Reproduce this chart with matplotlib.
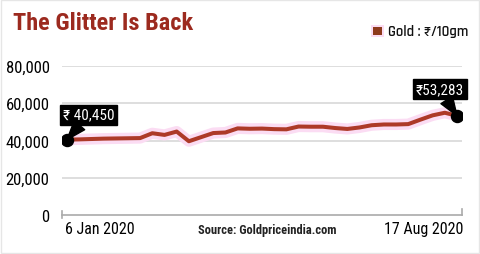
import matplotlib
matplotlib.use("Agg")
import matplotlib.pyplot as plt
import pandas as pd

# weekly gold price, Rs per 10 gm
dates = pd.date_range("2020-01-06", "2020-08-17", freq="7D")
prices = [40450, 40600, 40800, 41000, 41100, 41200, 41300, 43900, 43000, 44800,
          39600, 41800, 44000, 44300, 46500, 46300, 46400, 46100, 46000, 47500,
          47400, 47400, 46700, 46200, 47000, 48200, 48600, 48600, 48800, 51200,
          53500, 54900, 53283]
y_ticks = [0, 20000, 40000, 60000, 80000]
first_label = "6 Jan 2020"
last_label = "17 Aug 2020"

FONT = ["Roboto Condensed", "DejaVu Sans"]
plt.rcParams["font.family"] = FONT

fig = plt.figure(figsize=(4.8, 2.55), dpi=100)
fig.patch.set_facecolor("white")
ax = fig.add_axes([62/480, 39/255, 400/480, 149/255])

step = (dates[1] - dates[0]) * (5/12.19)
ax.set_xlim(dates[0] - step, dates[-1] + step)
ax.set_ylim(0, 80000)

for v in y_ticks[1:]:
    ax.axhline(v, color="#d8d8d8", lw=1.2, zorder=1)

ax.plot(dates, prices, color="#fbdcf3", lw=8, solid_capstyle="round", zorder=2)
ax.plot(dates, prices, color="#ad3a28", lw=2.9, solid_joinstyle="round", zorder=3)
ax.scatter([dates[0], dates[-1]], [prices[0], prices[-1]], s=75, color="black", zorder=5)

for s in ["top", "right", "left"]:
    ax.spines[s].set_visible(False)
ax.spines["bottom"].set_color("#aaaaaa")
ax.spines["bottom"].set_linewidth(1.2)
ax.set_xticks([])
ax.set_yticks(y_ticks)
ax.set_yticklabels(["{:,}".format(v) for v in y_ticks])
ax.tick_params(axis="y", length=0, pad=9, labelsize=12)
ax.axvline(ax.get_xlim()[0], ymin=-0.02, ymax=0.025, color="#aaaaaa", lw=1.2, clip_on=False)
ax.axvline(ax.get_xlim()[1], ymin=0, ymax=0.04, color="#aaaaaa", lw=1.2, clip_on=False)

# callouts
box = dict(boxstyle="square,pad=0.2", fc="black", ec="black")
arrow = dict(arrowstyle="wedge,tail_width=0.9", fc="black", ec="black", shrinkA=0, shrinkB=0)
ax.annotate("\u20b9 40,450", xy=(dates[0], prices[0]), xytext=(-3, 18), textcoords="offset points",
            fontsize=11, color="white", ha="left", va="center", bbox=box, arrowprops=arrow, zorder=6)
ax.annotate("\u20b953,283", xy=(dates[-1], prices[-1]), xytext=(5, 19), textcoords="offset points",
            fontsize=11, color="white", ha="right", va="center", bbox=box, arrowprops=arrow, zorder=6)

# bottom labels
fig.text(65/480, 1 - 230/255, first_label, fontsize=11.5, ha="left", va="center")
fig.text(463/480, 1 - 230/255, last_label, fontsize=11.5, ha="right", va="center")
fig.text(267/480, 1 - 231/255, "Source: Goldpriceindia.com", fontsize=9, ha="center",
         va="center", fontweight="bold", color="#222222")

# title and legend
fig.text(13/480, 1 - 24/255, "The Glitter Is Back", fontsize=17.5, fontweight="bold",
         color="#9c2a1f", ha="left", va="center")
fig.patches.append(plt.Rectangle((371/480, 1 - 38/255), 13/480, 12/255, transform=fig.transFigure,
                                 fc="#fbdcf3", ec="none"))
fig.patches.append(plt.Rectangle((373/480, 1 - 36/255), 9/480, 8/255, transform=fig.transFigure,
                                 fc="#8e3a1c", ec="none"))
fig.text(388/480, 1 - 32/255, "Gold : \u20b9/10gm", fontsize=10.5, ha="left", va="center",
         color="#111111", family=["Rajdhani", "Roboto Condensed", "DejaVu Sans"], fontweight="semibold")

fig.patches.append(plt.Rectangle((0.002, 0.004), 0.996, 0.992, transform=fig.transFigure,
                                 fill=False, ec="#e6e6e6", lw=1))

fig.savefig("out.png", dpi=100)
